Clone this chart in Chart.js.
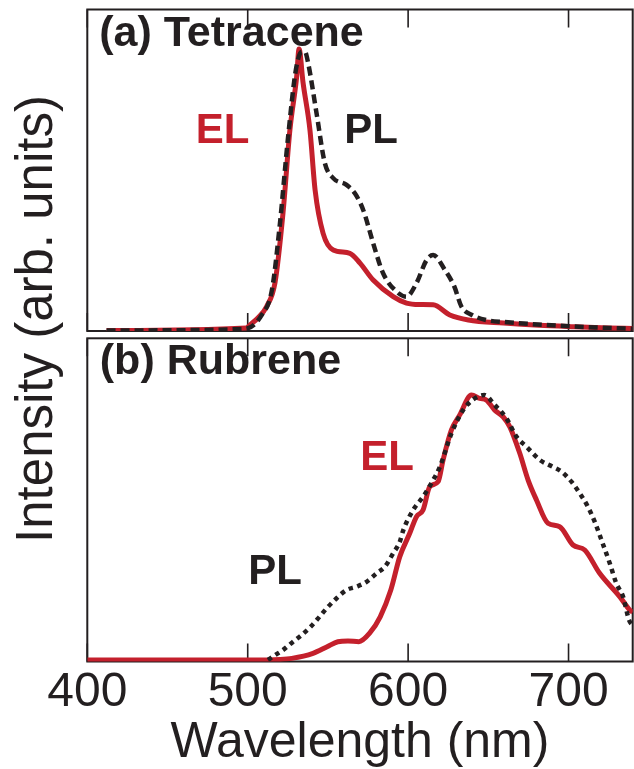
<!DOCTYPE html>
<html>
<head>
<meta charset="utf-8">
<script src="https://cdn.jsdelivr.net/npm/chart.js@4/dist/chart.umd.min.js"></script>
<style>
html,body{margin:0;padding:0;background:#fff;}
#wrap{position:relative;width:634px;height:769px;overflow:hidden;}
#wrap canvas{position:absolute;left:0;top:0;}
</style>
</head>
<body>
<div id="wrap">
<canvas id="chartA" width="634" height="769"></canvas>
<canvas id="chartB" width="634" height="769"></canvas>
</div>
<script>
// ---------- data ----------
const tickValues = [400, 500, 600, 700];

const tetraceneELWavelength = [412, 499, 501.5, 506.5, 511.8, 517, 522, 526.3, 530.5, 532, 534.5, 538.8, 542, 547, 553.3, 563.7, 570, 578.2, 590.7, 599, 607, 615.6, 626, 637.6, 659.6, 681.7, 703.7, 725, 740];
const tetraceneELIntensity  = [0, 0.009, 0.02, 0.045, 0.085, 0.169, 0.417, 0.712, 0.9, 1.0, 0.88, 0.712, 0.499, 0.345, 0.286, 0.274, 0.239, 0.179, 0.12, 0.097, 0.092, 0.091, 0.055, 0.037, 0.026, 0.018, 0.013, 0.009, 0.007];

const tetracenePLWavelength = [412, 498, 508.8, 515.1, 520, 525, 530, 533.8, 535.7, 537.7, 542.9, 548.1, 553.3, 561.6, 566.8, 572, 578.2, 584.4, 592.8, 599, 605.2, 611.5, 615.6, 622.9, 628.8, 633.2, 639.8, 648.7, 659.6, 703.7, 740];
const tetracenePLIntensity  = [0, 0.005, 0.055, 0.144, 0.375, 0.677, 0.925, 0.99, 0.99, 0.949, 0.772, 0.594, 0.541, 0.517, 0.487, 0.428, 0.31, 0.203, 0.138, 0.12, 0.168, 0.25, 0.268, 0.215, 0.156, 0.085, 0.055, 0.037, 0.03, 0.014, 0.006];

const rubreneELWavelength = [400, 501.4, 520, 527.5, 540.7, 549.5, 556.2, 562.5, 569.3, 576, 582.6, 589.2, 594.8, 601, 605.2, 609.3, 613.5, 618.7, 621.8, 627, 632.2, 639.5, 644.7, 648.8, 654, 659.2, 663.4, 669.6, 674.8, 680, 687.2, 694.5, 702.8, 710.1, 719.4, 731.9, 738.1, 740];
const rubreneELIntensity  = [0, 0, 0.002, 0.006, 0.025, 0.05, 0.069, 0.072, 0.069, 0.101, 0.163, 0.264, 0.39, 0.478, 0.541, 0.566, 0.654, 0.673, 0.755, 0.868, 0.925, 1.0, 0.987, 0.981, 0.943, 0.918, 0.88, 0.78, 0.679, 0.604, 0.516, 0.503, 0.434, 0.415, 0.327, 0.239, 0.189, 0.18];

const rubrenePLWavelength = [512.6, 517.3, 522.1, 528.3, 533.6, 538.8, 543.9, 549.2, 555.4, 561.6, 567.9, 574.1, 580.3, 585.5, 590.7, 594.8, 597, 603.1, 609.3, 615.6, 619.8, 627, 634.3, 641, 647.5, 654, 661.3, 667.5, 673.8, 682.1, 690.3, 695.6, 701.8, 707, 712.1, 716.3, 720.5, 725.7, 729.8, 734, 737.7, 740];
const rubrenePLIntensity  = [0, 0.019, 0.038, 0.069, 0.094, 0.123, 0.157, 0.195, 0.233, 0.264, 0.277, 0.295, 0.327, 0.352, 0.403, 0.446, 0.49, 0.566, 0.616, 0.679, 0.729, 0.855, 0.943, 0.985, 1.0, 0.962, 0.912, 0.843, 0.805, 0.755, 0.729, 0.711, 0.673, 0.629, 0.578, 0.522, 0.453, 0.365, 0.289, 0.239, 0.151, 0.13];

// ---------- styles ----------
const INK = '#231f20';
const RED = '#c4202c';
const FAMILY = '"Liberation Sans", Arial, Helvetica, sans-serif';

const toPoints = (xs, ys) => xs.map((x, i) => ({x: x, y: ys[i]}));

const framePlugin = {
  id: 'frame',
  beforeDatasetsDraw(chart) {
    const {ctx, chartArea: a} = chart;
    const x = chart.scales.x;
    ctx.save();
    ctx.strokeStyle = INK;
    ctx.lineWidth = 2;
    ctx.strokeRect(a.left, a.top, a.right - a.left, a.bottom - a.top);
    ctx.lineWidth = 1.6;
    ctx.beginPath();
    tickValues.forEach(v => {
      const px = x.getPixelForValue(v);
      ctx.moveTo(px, a.top); ctx.lineTo(px, a.top + 18);
      ctx.moveTo(px, a.bottom); ctx.lineTo(px, a.bottom - 18);
    });
    ctx.stroke();
    ctx.restore();
  },
  afterDatasetsDraw(chart, args, opts) {
    const {ctx, chartArea: a} = chart;
    ctx.save();
    ctx.textAlign = 'left';
    ctx.textBaseline = 'alphabetic';
    (opts.labels || []).forEach(l => {
      ctx.font = 'bold ' + l.size + 'px ' + FAMILY;
      ctx.fillStyle = l.color;
      ctx.fillText(l.text, a.left + l.dx, a.top + l.dy);
    });
    if (opts.yTitle) {
      const t = opts.yTitle;
      ctx.translate(t.x, t.y);
      ctx.rotate(-Math.PI / 2);
      ctx.textAlign = 'center';
      ctx.font = t.size + 'px ' + FAMILY;
      ctx.fillStyle = INK;
      ctx.fillText(t.text, 0, 0);
    }
    ctx.restore();
  }
};

function lineDS(label, xs, ys, color, width, dash) {
  return {
    label: label,
    data: toPoints(xs, ys),
    borderColor: color,
    backgroundColor: color,
    borderWidth: width,
    borderDash: dash,
    pointRadius: 0,
    fill: false,
    cubicInterpolationMode: 'monotone',
    borderCapStyle: 'butt',
    borderJoinStyle: 'round'
  };
}

const xBase = {
  type: 'linear', min: 400, max: 740,
  afterBuildTicks: s => { s.ticks = tickValues.map(v => ({value: v})); }
};

// ---------- panel (a) ----------
new Chart(document.getElementById('chartA'), {
  type: 'line',
  data: {
    datasets: [
      lineDS('PL', tetracenePLWavelength, tetracenePLIntensity, INK, 4.5, [9, 5]),
      lineDS('EL', tetraceneELWavelength, tetraceneELIntensity, RED, 5, [])
    ]
  },
  options: {
    responsive: false,
    animation: false,
    layout: {padding: {left: 87.3, right: 1.3, top: 9.5, bottom: 438}},
    scales: {
      x: Object.assign({}, xBase, {display: false}),
      y: {type: 'linear', min: -0.002, max: 1.14, display: false}
    },
    plugins: {
      legend: {display: false},
      tooltip: {enabled: false},
      frame: {
        labels: [
          {text: '(a) Tetracene', dx: 12, dy: 36, size: 43, color: INK},
          {text: 'EL', dx: 108.5, dy: 133, size: 42, color: RED},
          {text: 'PL', dx: 257, dy: 133, size: 42, color: INK}
        ]
      }
    }
  },
  plugins: [framePlugin]
});

// ---------- panel (b) ----------
new Chart(document.getElementById('chartB'), {
  type: 'line',
  data: {
    datasets: [
      lineDS('PL', rubrenePLWavelength, rubrenePLIntensity, INK, 4.5, [4.5, 4.5]),
      lineDS('EL', rubreneELWavelength, rubreneELIntensity, RED, 5, [])
    ]
  },
  options: {
    responsive: false,
    animation: false,
    layout: {padding: {left: 87.3, right: 1.3, top: 338.3, bottom: 0}},
    scales: {
      x: Object.assign({}, xBase, {
        afterFit: s => { s.height = 107.5; },
        grid: {display: false, drawTicks: false},
        border: {display: false},
        ticks: {font: {family: FAMILY, size: 48, lineHeight: 1.2}, color: INK, padding: 2.5, maxRotation: 0, autoSkip: false},
        title: {display: true, text: 'Wavelength (nm)', color: INK, font: {family: FAMILY, size: 50, lineHeight: 1.05}, padding: {top: 0, bottom: 0}}
      }),
      y: {type: 'linear', min: -0.0057, max: 1.214, display: false}
    },
    plugins: {
      legend: {display: false},
      tooltip: {enabled: false},
      frame: {
        labels: [
          {text: '(b) Rubrene', dx: 12.5, dy: 36, size: 43, color: INK},
          {text: 'EL', dx: 273, dy: 132, size: 42, color: RED},
          {text: 'PL', dx: 161, dy: 246, size: 42, color: INK}
        ],
        yTitle: {text: 'Intensity (arb. units)', x: 51.7, y: 319, size: 51}
      }
    }
  },
  plugins: [framePlugin]
});
</script>
</body>
</html>
